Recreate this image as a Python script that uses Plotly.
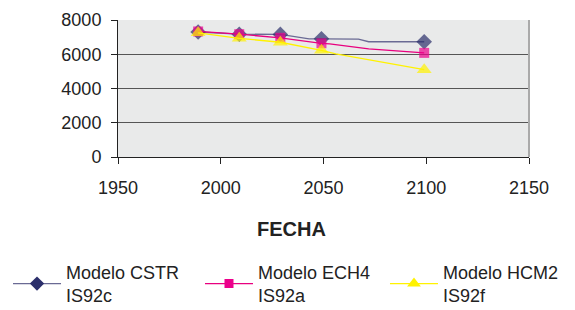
import plotly.graph_objects as go

# Data
cstr_years = [1989, 2009, 2029, 2043, 2049, 2067, 2072, 2099]
cstr_vals = [7300, 7170, 7160, 6900, 6900, 6880, 6730, 6730]
cstr_marker = [1, 1, 1, 0, 1, 0, 0, 1]

ech4_years = [1989, 2009, 2029, 2046, 2049, 2053, 2063, 2072, 2099]
ech4_vals = [7330, 7170, 6960, 6660, 6640, 6610, 6470, 6310, 6080]
ech4_marker = [1, 1, 1, 0, 1, 0, 0, 0, 1]

hcm2_years = [1989, 2009, 2029, 2049, 2056, 2099]
hcm2_vals = [7250, 6930, 6700, 6230, 6020, 5100]
hcm2_marker = [1, 1, 1, 1, 0, 1]

names = ["Modelo CSTR<br>IS92c", "Modelo ECH4<br>IS92a", "Modelo HCM2<br>IS92f"]
x_title = "FECHA"
x_ticks = [1950, 2000, 2050, 2100, 2150]
y_ticks = [0, 2000, 4000, 6000, 8000]

FONT = "Arial, Liberation Sans, Helvetica, sans-serif"

series = [
    (cstr_years, cstr_vals, cstr_marker, names[0], "#6a6a94", "#2b2f6b", "diamond", 12, "legend"),
    (ech4_years, ech4_vals, ech4_marker, names[1], "#e8007f", "#ec008c", "square", 10, "legend2"),
    (hcm2_years, hcm2_vals, hcm2_marker, names[2], "#fff200", "#fff200", "triangle-up", 13, "legend3"),
]

fig = go.Figure()
for xs, ys, mk, nm, lc, mc, sym, sz, lg in series:
    fig.add_trace(go.Scatter(
        x=xs, y=ys, mode="lines+markers", showlegend=False,
        line=dict(color=lc, width=1.3),
        marker=dict(symbol=sym, color=mc, size=[sz * m for m in mk], line=dict(width=0)),
        hoverinfo="skip",
    ))
for xs, ys, mk, nm, lc, mc, sym, sz, lg in series:
    fig.add_trace(go.Scatter(
        x=[None], y=[None], mode="lines+markers", name=nm, legend=lg,
        line=dict(color=lc, width=1.3),
        marker=dict(symbol=sym, color=mc, size=sz - 1),
    ))

def leg(x):
    return dict(
        orientation="h", x=x, xanchor="left", y=-0.706, yanchor="top",
        font=dict(family=FONT, size=18, color="#222"),
        itemwidth=48, bgcolor="rgba(0,0,0,0)",
    )

fig.update_layout(
    width=567, height=302,
    margin=dict(l=110, r=46, t=12, b=153, autoexpand=False),
    paper_bgcolor="white",
    plot_bgcolor="#e9eaea",
    font=dict(family=FONT, size=18, color="#222"),
    showlegend=True,
    legend=leg(-0.2676),
    legend2=leg(0.1995),
    legend3=leg(0.6496),
    xaxis=dict(
        range=[1950, 2150], tickvals=x_ticks, ticktext=[str(v) for v in x_ticks],
        showgrid=False, zeroline=False,
        showline=True, linecolor="#222", linewidth=1,
        ticks="outside", ticklen=6, tickcolor="#222",
        tickfont=dict(family=FONT, size=18, color="#222"),
        ticklabelstandoff=8,
    ),
    yaxis=dict(
        range=[0, 8000], tickvals=y_ticks, ticktext=[str(v) for v in y_ticks],
        showgrid=True, gridcolor="#555", gridwidth=1,
        zeroline=False,
        showline=True, linecolor="#222", linewidth=1,
        ticks="outside", ticklen=6, tickcolor="#222",
        tickfont=dict(family=FONT, size=18, color="#222"),
        ticklabelstandoff=6,
    ),
    annotations=[dict(text="<b>" + x_title + "</b>", xref="paper", yref="paper",
                      x=0.423, y=-0.526, xanchor="center", yanchor="middle",
                      showarrow=False, font=dict(family=FONT, size=20, color="#222"))],
    shapes=[dict(type="line", xref="paper", yref="paper", x0=1, x1=1, y0=0, y1=1,
                 line=dict(color="#aaaaaa", width=2))],
)

fig.write_html("out.html")
